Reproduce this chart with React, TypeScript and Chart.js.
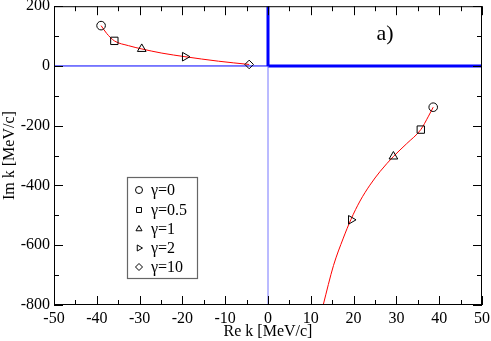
import React, { useEffect, useRef } from "react";
import { Chart, registerables } from "chart.js";
import { drawPoint } from "chart.js/helpers";

Chart.register(...registerables);

// Red trajectory curves, sorted by Re k
const upperRe = [-39.0, -37.7, -35.9, -32.6, -29.5, -24.8, -19.4, -11.6, -4.4];
const upperIm = [135, 109, 84, 68, 57, 43, 31, 16, 5];
const lowerRe = [12.2, 12.9, 15.3, 17.6, 19.4, 21.5, 23.8, 26.2, 29.3, 32.4, 35.7, 37.5, 38.6];
const lowerIm = [-840, -800, -668, -576, -513, -452, -399, -353, -303, -260, -213, -168, -138];

// Marker points per gamma
const gammaLabels = ["γ=0", "γ=0.5", "γ=1", "γ=2", "γ=10"];
const gammaStyles = ["circle", "rect", "triangle", "triangle", "rectRot"];
const gammaRotations = [0, 0, 0, 90, 0];
const markUpperRe = [-39.0, -35.9, -29.5, -19.4, -4.4];
const markUpperIm = [135, 84, 57, 31, 5];
const markLowerRe = [38.6, 35.7, 29.3, 19.4];
const markLowerIm = [-138, -213, -303, -515];

// Axis ranges
const xMin = -50, xMax = 50, xMajor = 10, xMinor = 5;
const yMin = -800, yMax = 200, yMajor = 200, yMinor = 100;

const FONT = "'Liberation Serif', 'Times New Roman', serif";

const zip = (xs: number[], ys: number[]) => xs.map((x, i) => ({ x, y: ys[i] }));

const framePlugin = {
  id: "framePlugin",
  afterDraw(chart: any) {
    const ctx = chart.ctx;
    const { left, right, top, bottom } = chart.chartArea;
    const xs = chart.scales.x;
    const ys = chart.scales.y;
    ctx.save();
    ctx.strokeStyle = "#000";
    ctx.lineWidth = 1;
    ctx.strokeRect(left + 0.5, top + 0.5, right - left - 1, bottom - top - 1);
    ctx.beginPath();
    for (let v = xMin; v <= xMax; v += xMinor) {
      const p = Math.round(xs.getPixelForValue(v)) + 0.5;
      const len = Math.abs(v % xMajor) === 0 ? 9 : 5;
      ctx.moveTo(p, bottom);
      ctx.lineTo(p, bottom - len);
      ctx.moveTo(p, top);
      ctx.lineTo(p, top + len);
    }
    for (let v = yMin; v <= yMax; v += yMinor) {
      const p = Math.round(ys.getPixelForValue(v)) + 0.5;
      const len = Math.abs(v % yMajor) === 0 ? 9 : 5;
      ctx.moveTo(left, p);
      ctx.lineTo(left + len, p);
      ctx.moveTo(right, p);
      ctx.lineTo(right - len, p);
    }
    ctx.stroke();

    // "a)" label
    ctx.fillStyle = "#000";
    ctx.font = `22px ${FONT}`;
    ctx.textAlign = "center";
    ctx.textBaseline = "middle";
    ctx.fillText("a)", 385, 34);

    // legend box
    const bx = 127, by = 177, bw = 70, bh = 101;
    ctx.fillStyle = "#fff";
    ctx.fillRect(bx, by, bw, bh);
    ctx.strokeStyle = "#666";
    ctx.lineWidth = 1.2;
    ctx.strokeRect(bx + 0.5, by + 0.5, bw, bh);
    ctx.font = `16px ${FONT}`;
    ctx.textAlign = "left";
    ctx.textBaseline = "middle";
    const rows = [190, 210, 229, 248, 267];
    gammaLabels.forEach((lab, i) => {
      ctx.strokeStyle = "#000";
      ctx.fillStyle = "rgba(0,0,0,0)";
      ctx.lineWidth = 1;
      drawPoint(ctx, { pointStyle: gammaStyles[i], radius: 3.5, rotation: gammaRotations[i], borderWidth: 1 } as any, 139, rows[i]);
      ctx.fillStyle = "#000";
      ctx.fillText(lab, 151, rows[i] + 1);
    });
    ctx.restore();
  },
};

export default function App() {
  const ref = useRef<HTMLCanvasElement>(null);
  useEffect(() => {
    if (!ref.current) return;
    const lineDs = (data: any[], color: string, width: number, order: number) => ({
      type: "line" as const,
      data,
      borderColor: color,
      borderWidth: width,
      pointRadius: 0,
      fill: false,
      tension: 0,
      order,
    });
    const markerDs = gammaLabels.map((lab, i) => {
      const pts = [{ x: markUpperRe[i], y: markUpperIm[i] }];
      if (i < markLowerRe.length) pts.push({ x: markLowerRe[i], y: markLowerIm[i] });
      return {
        type: "scatter" as const,
        label: lab,
        data: pts,
        pointStyle: gammaStyles[i],
        rotation: gammaRotations[i],
        radius: gammaStyles[i] === "triangle" ? 5 : gammaStyles[i] === "rect" ? 5.2 : 4.3,
        borderColor: "#000",
        backgroundColor: "rgba(0,0,0,0)",
        borderWidth: 1,
        showLine: false,
        order: 0,
      };
    });
    const chart = new Chart(ref.current, {
      type: "scatter",
      data: {
        datasets: [
          ...markerDs,
          { ...lineDs(zip(upperRe, upperIm), "#ff0000", 1, 2), cubicInterpolationMode: "monotone" },
          { ...lineDs(zip(lowerRe, lowerIm), "#ff0000", 1, 2), cubicInterpolationMode: "monotone" },
          lineDs([{ x: xMin, y: 0 }, { x: 0, y: 0 }], "#0000ff", 1, 3),
          lineDs([{ x: 0, y: yMin }, { x: 0, y: 0 }], "#7777ff", 1, 3),
          lineDs([{ x: 0, y: 0 }, { x: 0, y: yMax }], "#0000ff", 3, 3),
          lineDs([{ x: 0, y: 0 }, { x: xMax, y: 0 }], "#0000ff", 3, 3),
        ] as any,
      },
      options: {
        animation: false,
        responsive: false,
        events: [],
        layout: { padding: { top: 6, right: 9, left: 0, bottom: 0 } },
        plugins: { legend: { display: false }, tooltip: { enabled: false } },
        scales: {
          x: {
            type: "linear",
            min: xMin,
            max: xMax,
            grid: { display: false, drawTicks: false },
            border: { display: false },
            ticks: {
              stepSize: xMajor,
              autoSkip: false,
              maxRotation: 0,
              padding: 4,
              color: "#000",
              font: { family: FONT, size: 16 },
            },
            title: {
              display: true,
              text: "Re k [MeV/c]",
              color: "#000",
              font: { family: FONT, size: 16 },
              padding: { top: 0, bottom: 0 },
            },
            afterFit(scale: any) {
              scale.height = 36;
              scale.paddingLeft = 0;
              scale.paddingRight = 0;
            },
          },
          y: {
            type: "linear",
            min: yMin,
            max: yMax,
            grid: { display: false, drawTicks: false },
            border: { display: false },
            ticks: {
              stepSize: yMajor,
              autoSkip: false,
              padding: 4,
              color: "#000",
              font: { family: FONT, size: 16 },
            },
            title: {
              display: true,
              text: "Im k [MeV/c]",
              color: "#000",
              font: { family: FONT, size: 16 },
              padding: { top: 0, bottom: 0 },
            },
            afterFit(scale: any) {
              scale.width = 54;
              scale.paddingTop = 0;
              scale.paddingBottom = 0;
            },
          },
        },
      },
      plugins: [framePlugin],
    } as any);
    return () => chart.destroy();
  }, []);
  return (
    <div style={{ position: "absolute", left: 0, top: 0, width: 491, height: 341 }}>
      <canvas ref={ref} width={491} height={341} style={{ display: "block" }} />
    </div>
  );
}
